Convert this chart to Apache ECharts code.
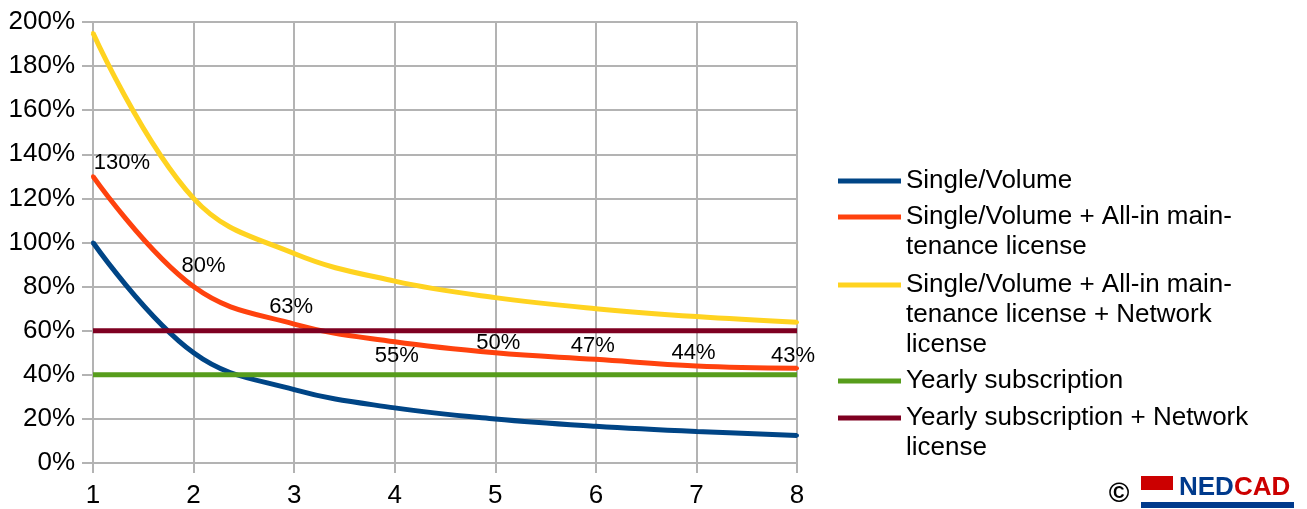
<!DOCTYPE html>
<html>
<head>
<meta charset="utf-8">
<script src="https://cdn.jsdelivr.net/npm/echarts@6/dist/echarts.min.js"></script>
<style>
html,body{margin:0;padding:0;background:#fff;}
#chart{width:1307px;height:509px;}
</style>
</head>
<body>
<div id="chart"></div>
<script>
// ---- data ----
var users = [1, 2, 3, 4, 5, 6, 7, 8];
var singleVolume = [100, 50, 33.3, 25, 20, 16.7, 14.3, 12.5];
var withMaintenance = [130, 80, 63, 55, 50, 47, 44, 43];
var withMaintenanceNetwork = [195, 120, 95, 82.5, 75, 70, 66.4, 63.8];
var yearly = [40, 40, 40, 40, 40, 40, 40, 40];
var yearlyNetwork = [60, 60, 60, 60, 60, 60, 60, 60];
var seriesNames = [
  'Single/Volume',
  'Single/Volume + All-in maintenance license',
  'Single/Volume + All-in maintenance license + Network license',
  'Yearly subscription',
  'Yearly subscription + Network license'
];
var legendLines = [
  ['Single/Volume'],
  ['Single/Volume + All-in main-', 'tenance license'],
  ['Single/Volume + All-in main-', 'tenance license + Network', 'license'],
  ['Yearly subscription'],
  ['Yearly subscription + Network', 'license']
];
var colors = ['#004586', '#ff420e', '#ffd320', '#579d1c', '#7e0021'];
// label offsets (style only)
var labelOffsets = [[29,-13],[10,-21],[-3,-17],[2,14],[3,-10],[-3,-13],[-3,-13],[-4,-12]];

var FONT = '"Liberation Sans", Arial, sans-serif';
var gridColor = '#b3b3b3';

function pairs(ys) { return users.map(function (x, i) { return [x, ys[i]]; }); }

var orangeData = users.map(function (x, i) {
  return {
    value: [x, withMaintenance[i]],
    label: { show: true, position: 'inside', offset: labelOffsets[i] }
  };
});

function lineSeries(name, data, color, extra) {
  var s = {
    name: name, type: 'line', data: data, smooth: 0.4,
    symbol: 'circle', symbolSize: 4, showSymbol: true,
    lineStyle: { width: 5, color: color },
    itemStyle: { color: color },
    emphasis: { disabled: true },
    animation: false
  };
  for (var k in extra) s[k] = extra[k];
  return s;
}

var iconCenters = [181, 217, 285, 381, 418];
var LH = 30;
var legends = seriesNames.map(function (nm, i) {
  var n = legendLines[i].length;
  var pre = '';
  for (var j = 1; j < n; j++) pre += ' \n';
  return {
    show: true,
    orient: 'vertical',
    left: 838,
    top: iconCenters[i] - (2 * n - 1) * LH / 2,
    padding: 0,
    itemWidth: 63,
    itemHeight: 5,
    icon: 'rect',
    selectedMode: false,
    data: [{ name: nm, icon: 'rect' }],
    formatter: function () { return pre + legendLines[i].join('\n'); },
    textStyle: {
      fontFamily: FONT, fontSize: 26, color: '#000', lineHeight: LH
    }
  };
});

var option = {
  backgroundColor: '#fff',
  animation: false,
  color: colors,
  grid: { left: 93, right: 510, top: 22, bottom: 46, containLabel: false },
  legend: legends,
  xAxis: {
    type: 'value', min: 1, max: 8, interval: 1,
    axisLine: { show: true, lineStyle: { color: gridColor, width: 2 } },
    axisTick: { show: true, length: 10, lineStyle: { color: gridColor, width: 2 } },
    splitLine: { show: true, lineStyle: { color: gridColor, width: 2 } },
    axisLabel: { fontFamily: FONT, fontSize: 26, color: '#000', margin: 20 }
  },
  yAxis: {
    type: 'value', min: 0, max: 200, interval: 20,
    axisLine: { show: true, lineStyle: { color: gridColor, width: 2 } },
    axisTick: { show: true, length: 11, lineStyle: { color: gridColor, width: 2 } },
    splitLine: { show: true, lineStyle: { color: gridColor, width: 2 } },
    axisLabel: { fontFamily: FONT, fontSize: 26, color: '#000', margin: 18,
      formatter: '{value}%' }
  },
  series: [
    lineSeries(seriesNames[0], pairs(singleVolume), colors[0], {}),
    lineSeries(seriesNames[1], orangeData, colors[1], {
      label: { show: true, fontFamily: FONT, fontSize: 22, color: '#000',
        formatter: function (p) { return p.value[1] + '%'; } }
    }),
    lineSeries(seriesNames[2], pairs(withMaintenanceNetwork), colors[2], {}),
    lineSeries(seriesNames[3], pairs(yearly), colors[3], { smooth: false, showSymbol: false, symbol: 'none' }),
    lineSeries(seriesNames[4], pairs(yearlyNetwork), colors[4], { smooth: false, showSymbol: false, symbol: 'none' })
  ],
  graphic: [
    { type: 'text', x: 1119, y: 494,
      style: { text: '©', font: 'bold 28px ' + FONT, fill: '#000',
        align: 'center', verticalAlign: 'middle' } },
    { type: 'rect', shape: { x: 1141, y: 476, width: 32, height: 14 },
      style: { fill: '#cc0000' } },
    { type: 'rect', shape: { x: 1141, y: 502, width: 153, height: 6 },
      style: { fill: '#003a8c' } },
    { type: 'text', x: 1179, y: 488,
      style: { text: '{a|NED}{b|CAD}', verticalAlign: 'middle', rich: {
        a: { font: 'bold 26px ' + FONT, fill: '#003a8c' },
        b: { font: 'bold 26px ' + FONT, fill: '#cc0000' } } } }
  ]
};

var chart = echarts.init(document.getElementById('chart'), null, { renderer: 'canvas' });
chart.setOption(option);
</script>
</body>
</html>
